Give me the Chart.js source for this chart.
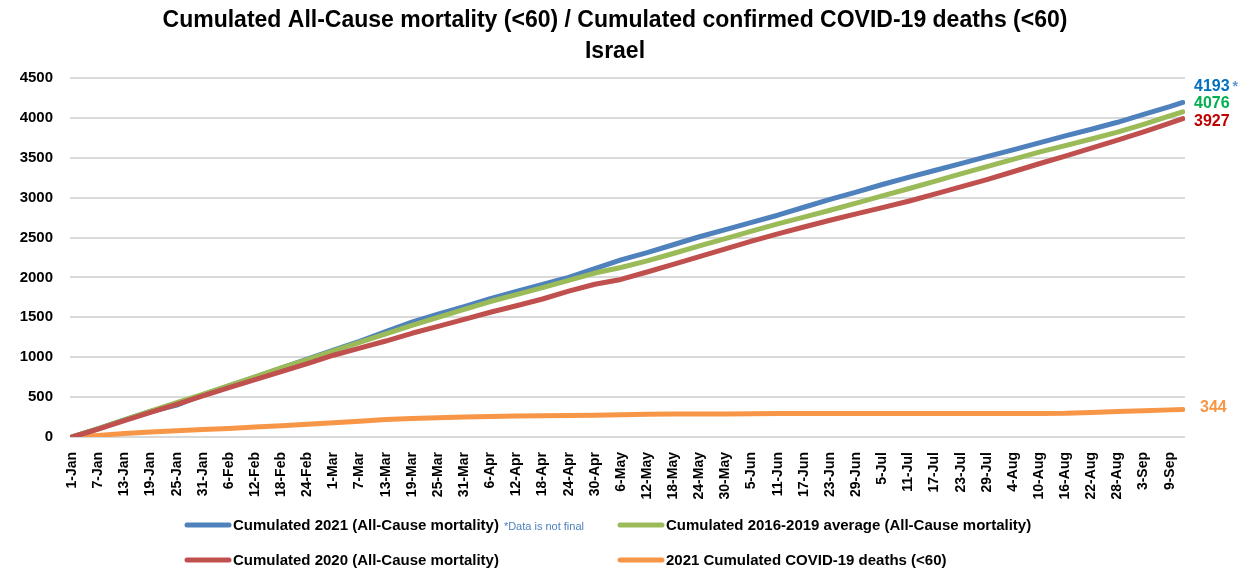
<!DOCTYPE html>
<html>
<head>
<meta charset="utf-8">
<script src="https://cdn.jsdelivr.net/npm/chart.js@4.4.1/dist/chart.umd.min.js"></script>
<style>
  html, body { margin: 0; padding: 0; background: #fff; }
  #wrap { width: 1247px; height: 579px; position: relative; }
</style>
</head>
<body>
<div id="wrap"><canvas id="c" width="1247" height="579"></canvas></div>
<script>
// Day index from 1-Jan (leap-year calendar), sampled days
const days = [0,6,12,18,24,30,36,42,48,54,60,66,72,78,84,90,96,102,108,114,120,126,132,138,144,150,156,162,168,174,180,186,192,198,204,210,216,222,228,234,240,246,252,255];

const tickLabels = ['1-Jan','7-Jan','13-Jan','19-Jan','25-Jan','31-Jan','6-Feb','12-Feb','18-Feb','24-Feb','1-Mar','7-Mar','13-Mar','19-Mar','25-Mar','31-Mar','6-Apr','12-Apr','18-Apr','24-Apr','30-Apr','6-May','12-May','18-May','24-May','30-May','5-Jun','11-Jun','17-Jun','23-Jun','29-Jun','5-Jul','11-Jul','17-Jul','23-Jul','29-Jul','4-Aug','10-Aug','16-Aug','22-Aug','28-Aug','3-Sep','9-Sep'];
const tickStep = 6;

const cum2021 = [0,105,215,320,400,530,640,750,865,975,1090,1200,1320,1440,1540,1635,1735,1825,1912,2000,2110,2220,2310,2410,2510,2600,2690,2780,2880,2979,3070,3165,3255,3340,3427,3515,3600,3687,3775,3857,3945,4043,4140,4193];
const cumAvg = [0,105,215,325,430,535,645,755,865,970,1080,1185,1292,1400,1500,1600,1698,1785,1872,1964,2055,2125,2208,2300,2395,2487,2580,2672,2757,2842,2932,3022,3112,3205,3298,3390,3480,3570,3653,3735,3822,3920,4025,4076];
const cum2020 = [0,100,205,310,410,515,620,720,820,920,1025,1115,1203,1300,1387,1475,1564,1645,1730,1828,1915,1975,2068,2165,2260,2358,2455,2547,2632,2717,2796,2875,2955,3044,3135,3227,3325,3425,3521,3620,3720,3825,3935,3990];
const covid2021 = [0,20,45,62,78,94,108,125,142,160,178,196,218,232,242,250,256,262,266,270,274,280,285,287,288,289,291,296,296,296,296,296,296,296,296,296,296,296,298,308,320,330,340,344];

const seriesNames = ['Cumulated 2021 (All-Cause mortality)','Cumulated 2016-2019 average (All-Cause mortality)','Cumulated 2020 (All-Cause mortality)','2021 Cumulated COVID-19 deaths (<60)'];
const endLabels = ['4193','4076','3927','344'];
const yTicks = [0,500,1000,1500,2000,2500,3000,3500,4000,4500];

const COL_BLUE = '#4f81bd', COL_GREEN = '#9bbb59', COL_RED = '#c0504d', COL_ORANGE = '#f79646';
const FONT = '"Liberation Sans", Arial, sans-serif';

function pts(arr){ return days.map((d,i)=>({x:d, y:arr[i]})); }
function ds(label, arr, color, order){
  return { label, data: pts(arr), borderColor: color, backgroundColor: color, borderWidth: 5,
    pointRadius: 0, tension: 0, borderCapStyle: 'round', borderJoinStyle: 'round', fill: false, order };
}

const overlay = {
  id: 'overlay',
  afterDraw(chart){
    const ctx = chart.ctx;
    ctx.save();
    // Title
    ctx.fillStyle = '#000';
    ctx.textAlign = 'center';
    ctx.textBaseline = 'middle';
    ctx.font = 'bold 23px ' + FONT;
    ctx.fillText('Cumulated All-Cause mortality (<60) / Cumulated confirmed COVID-19 deaths (<60)', 615, 21);
    ctx.fillText('Israel', 615, 52);

    // End labels
    ctx.textAlign = 'left';
    ctx.font = 'bold 16px ' + FONT;
    ctx.fillStyle = '#0070c0'; ctx.fillText(endLabels[0], 1194, 87);
    const w0 = ctx.measureText(endLabels[0]).width;
    ctx.fillStyle = '#5b9bd5'; ctx.font = 'bold 14px ' + FONT; ctx.fillText('*', 1194 + w0 + 3, 87);
    ctx.font = 'bold 16px ' + FONT;
    ctx.fillStyle = '#00b050'; ctx.fillText(endLabels[1], 1194, 104);
    ctx.fillStyle = '#c00000'; ctx.fillText(endLabels[2], 1194, 122);
    ctx.fillStyle = COL_ORANGE; ctx.fillText(endLabels[3], 1200, 408);

    // Legend
    const items = [
      {c: COL_BLUE, t: seriesNames[0], x: 187, y: 525},
      {c: COL_GREEN, t: seriesNames[1], x: 620, y: 525},
      {c: COL_RED, t: seriesNames[2], x: 187, y: 560},
      {c: COL_ORANGE, t: seriesNames[3], x: 620, y: 560}
    ];
    ctx.lineCap = 'round';
    ctx.lineWidth = 5;
    items.forEach((it, i) => {
      ctx.strokeStyle = it.c;
      ctx.beginPath(); ctx.moveTo(it.x, it.y); ctx.lineTo(it.x + 42, it.y); ctx.stroke();
      ctx.fillStyle = '#000';
      ctx.font = 'bold 15px ' + FONT;
      ctx.textAlign = 'left';
      ctx.fillText(it.t, it.x + 46, it.y + 1);
      if (i === 0) {
        const w = ctx.measureText(it.t).width;
        ctx.fillStyle = '#4f81bd';
        ctx.font = '11px ' + FONT;
        ctx.fillText('*Data is not final', it.x + 46 + w + 5, it.y + 2);
      }
    });
    ctx.restore();
  }
};

new Chart(document.getElementById('c'), {
  type: 'line',
  data: {
    datasets: [
      ds(seriesNames[2], cum2020, COL_RED, 0),
      ds(seriesNames[1], cumAvg, COL_GREEN, 1),
      ds(seriesNames[0], cum2021, COL_BLUE, 2),
      ds(seriesNames[3], covid2021, COL_ORANGE, 3)
    ]
  },
  options: {
    responsive: false,
    animation: false,
    devicePixelRatio: 1,
    layout: { padding: { left: 0, right: 62, top: 78, bottom: 0 } },
    plugins: { legend: { display: false }, title: { display: false }, tooltip: { enabled: false } },
    scales: {
      x: {
        type: 'linear', min: -0.5, max: 255.5,
        grid: { display: false },
        border: { display: false },
        afterBuildTicks(axis){ axis.ticks = tickLabels.map((_, i) => ({ value: i * tickStep })); },
        afterFit(axis){ axis.height = 142; },
        ticks: {
          autoSkip: false, minRotation: 90, maxRotation: 90, padding: 7,
          color: '#000', font: { family: FONT, size: 14, weight: 'bold' },
          callback(v){ return tickLabels[Math.round(v / tickStep)]; }
        }
      },
      y: {
        min: 0, max: 4500,
        grid: { color: '#d9d9d9', lineWidth: 2, drawTicks: false },
        border: { display: false },
        afterBuildTicks(axis){ axis.ticks = yTicks.map(v => ({ value: v })); },
        afterFit(axis){ axis.width = 70; },
        ticks: { padding: 17, color: '#000', font: { family: FONT, size: 15, weight: 'bold' },
          callback(v){ return String(v); } }
      }
    }
  },
  plugins: [overlay]
});
</script>
</body>
</html>
